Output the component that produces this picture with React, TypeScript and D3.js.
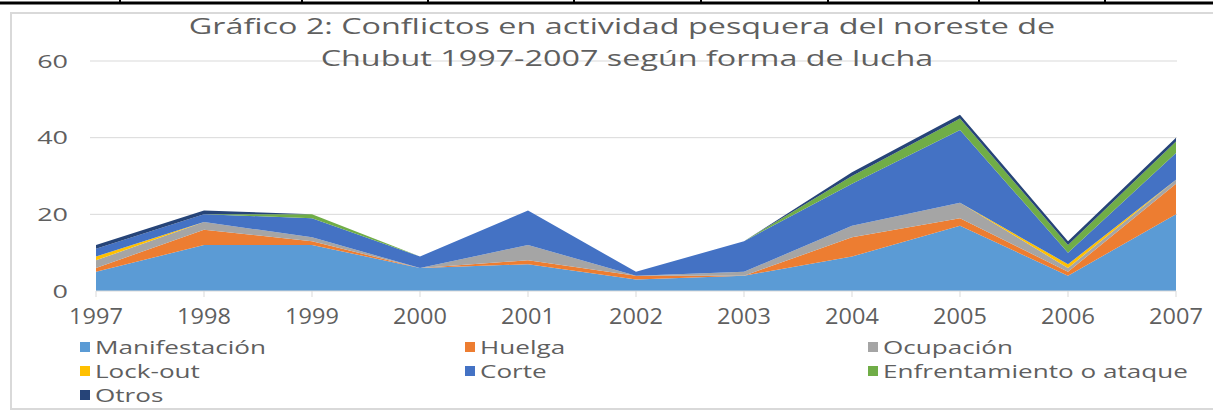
import React from 'react'
import * as d3 from 'd3'

// values
const years = ['1997', '1998', '1999', '2000', '2001', '2002', '2003', '2004', '2005', '2006', '2007']
const manifestacion = [5, 12, 12, 6, 7, 3, 4, 9, 17, 4, 20]
const huelga = [1, 4, 1, 0, 1, 1, 0, 5, 2, 1, 8]
const ocupacion = [2, 2, 1, 0, 4, 0, 1, 3, 4, 1, 1]
const lockout = [1, 0, 0, 0, 0, 0, 0, 0, 0, 1, 0]
const corte = [2, 2, 5, 3, 9, 1, 8, 11, 19, 3, 7]
const enfrentamiento = [0, 0, 1, 0, 0, 0, 0, 2, 3, 2, 3]
const otros = [1, 1, 0, 0, 0, 0, 0, 1, 1, 1, 1]

const seriesNames = ['Manifestación', 'Huelga', 'Ocupación', 'Lock-out', 'Corte', 'Enfrentamiento o ataque', 'Otros']
const seriesColors = ['#5B9BD5', '#ED7D31', '#A5A5A5', '#FFC000', '#4472C4', '#70AD47', '#264478']
const yTicks = [0, 20, 40, 60]
const titleLines = ['Gráfico 2: Conflictos en actividad pesquera del noreste de', 'Chubut 1997-2007 según forma de lucha']

const width = 1213
const height = 412
const textColor = '#5f5f5f'
const font = "'Open Sans', sans-serif"

export default function App() {
    const allSeries = [manifestacion, huelga, ocupacion, lockout, corte, enfrentamiento, otros]

    // one row per year for d3.stack
    const table = years.map((y, i) => {
        const row: any = { year: y }
        seriesNames.forEach((name, j) => { row[name] = allSeries[j][i] })
        return row
    })

    const stacked = d3.stack().keys(seriesNames)(table)

    const x = d3.scalePoint().domain(years).range([96, 1176])
    const y = d3.scaleLinear().domain([0, 60]).range([291, 61])

    const area = d3
        .area<any>()
        .x(d => x(d.data.year) as number)
        .y0(d => y(d[0]))
        .y1(d => y(d[1]))

    // table borders above the chart in the scanned page
    const tableCols = [120, 302, 428, 574, 701, 828, 979, 1105]

    const legendCols = [80, 465, 868]
    const legendRows = [347, 371, 395]

    return (
        <svg width={width} height={height} style={{ position: 'absolute', left: 0, top: 0, background: '#fff' }}>
            <line x1={0} x2={width} y1={3} y2={3} stroke="#000" strokeWidth={3} />
            {tableCols.map(c => (
                <line key={c} x1={c} x2={c} y1={0} y2={4} stroke="#000" strokeWidth={2} />
            ))}
            <rect x={11} y={13} width={width + 20} height={396} fill="none" stroke="#D9D9D9" strokeWidth={2} />

            {yTicks.map(t => (
                <g key={t}>
                    {t > 0 && <line x1={90} x2={1177} y1={y(t)} y2={y(t)} stroke="#D9D9D9" strokeWidth={1} />}
                    <text
                        transform={`translate(68, ${y(t) + 6.5}) scale(1.5,1)`}
                        textAnchor="end"
                        fontFamily={font}
                        fontSize={18}
                        fill={textColor}
                    >
                        {t}
                    </text>
                </g>
            ))}

            {stacked.map((s, i) => (
                <path key={s.key} d={area(s) as string} fill={seriesColors[i]} />
            ))}

            <line x1={96} x2={1176} y1={y(0)} y2={y(0)} stroke="#D9D9D9" strokeWidth={1} />
            {years.map(yr => (
                <g key={yr}>
                    <line x1={x(yr)} x2={x(yr)} y1={y(0)} y2={y(0) + 6} stroke="#D9D9D9" strokeWidth={1} />
                    <text
                        transform={`translate(${x(yr)}, 324) scale(1.12,1)`}
                        textAnchor="middle"
                        fontFamily={font}
                        fontSize={21}
                        fill={textColor}
                    >
                        {yr}
                    </text>
                </g>
            ))}

            {titleLines.map((line, i) => (
                <text
                    key={i}
                    transform={`translate(${i === 0 ? 622 : 627}, ${34 + i * 32}) scale(1.47,1)`}
                    textAnchor="middle"
                    fontFamily={font}
                    fontSize={22}
                    fill={textColor}
                >
                    {line}
                </text>
            ))}

            {seriesNames.map((name, i) => {
                const lx = legendCols[i % 3]
                const ly = legendRows[Math.floor(i / 3)]
                return (
                    <g key={name}>
                        <rect x={lx} y={ly - 5} width={10} height={10} fill={seriesColors[i]} />
                        <text
                            transform={`translate(${lx + 15}, ${ly + 6.5}) scale(1.45,1)`}
                            fontFamily={font}
                            fontSize={18}
                            fill={textColor}
                        >
                            {name}
                        </text>
                    </g>
                )
            })}
        </svg>
    )
}
